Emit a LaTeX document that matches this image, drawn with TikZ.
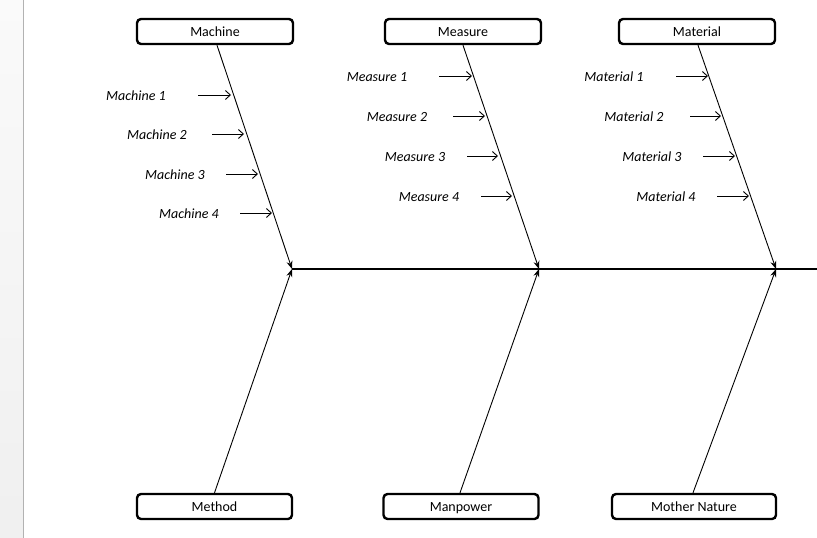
\documentclass[tikz,border=0pt]{standalone}
\usepackage{fontspec}
\setmainfont{Carlito}
\usetikzlibrary{arrows.meta}
\begin{document}
\begin{tikzpicture}[x=1pt,y=-1pt,
  catbox/.style={draw=black, line width=2.4pt, rounded corners=4pt, minimum height=25pt, inner sep=0pt, text height=10.5pt, text depth=1.5pt, font=\fontsize{14}{16}\selectfont, text=black},
  cause/.style={font=\itshape\fontsize{14}{16}\selectfont, text=black, text height=10.5pt, text depth=1.5pt},
  bone/.style={line width=0.9pt, -{Stealth[length=8pt,width=6pt]}},
  sub/.style={line width=0.9pt, -{Straight Barb[length=5pt,width=9pt]}},
  spine/.style={line width=2pt}]
\useasboundingbox (0,0) rectangle (817,538);
% left gray strip
\shade[top color=black!2, bottom color=black!6, draw=none] (0,0) rectangle (23,538);
\draw[black!30, line width=1pt] (23.5,0) -- (23.5,538);

% category boxes
\node[catbox, minimum width=156pt] (mach) at (215,31.5) {Machine};
\node[catbox, minimum width=156pt] (meas) at (463,31.5) {Measure};
\node[catbox, minimum width=156pt] (mate) at (697,31.5) {Material};
\node[catbox, minimum width=155pt] (meth) at (214.5,506.5) {Method};
\node[catbox, minimum width=155pt] (manp) at (461,506.5) {Manpower};
\node[catbox, minimum width=164pt] (moth) at (694,506.5) {Mother Nature};

% junctions on spine
\coordinate (j1) at (292,269);
\coordinate (j2) at (539,269);
\coordinate (j3) at (776,269);
\coordinate (jend) at (817,269);

\draw[spine] (j1) -- (jend);

\draw[bone] ([xshift=2pt]mach.south) -- (j1);
\draw[bone] ([xshift=0pt]meth.north) -- (j1);
\draw[bone] ([xshift=0pt]meas.south) -- (j2);
\draw[bone] ([xshift=-1pt]manp.north) -- (j2);
\draw[bone] ([xshift=1pt]mate.south) -- (j3);
\draw[bone] ([xshift=-1pt]moth.north) -- (j3);

% Machine causes
\node[cause] (c11) at (136,96) {Machine 1};
\node[cause] (c12) at (157,135) {Machine 2};
\node[cause] (c13) at (175,175) {Machine 3};
\node[cause] (c14) at (189,214) {Machine 4};
\coordinate (a11) at (198,95);  \coordinate (b11) at (231,95);
\coordinate (a12) at (212,134); \coordinate (b12) at (244,134);
\coordinate (a13) at (226,174); \coordinate (b13) at (258,174);
\coordinate (a14) at (240,213); \coordinate (b14) at (272,213);
\foreach \i in {11,12,13,14} \draw[sub] (a\i) -- (b\i);

% Measure causes
\node[cause] (c21) at (377,77) {Measure 1};
\node[cause] (c22) at (397,117) {Measure 2};
\node[cause] (c23) at (415,157) {Measure 3};
\node[cause] (c24) at (429,197) {Measure 4};
\coordinate (a21) at (439,76);  \coordinate (b21) at (472,76);
\coordinate (a22) at (453,116); \coordinate (b22) at (485,116);
\coordinate (a23) at (467,156); \coordinate (b23) at (498,156);
\coordinate (a24) at (481,196); \coordinate (b24) at (512,196);
\foreach \i in {21,22,23,24} \draw[sub] (a\i) -- (b\i);

% Material causes
\node[cause] (c31) at (614,77) {Material 1};
\node[cause] (c32) at (634,117) {Material 2};
\node[cause] (c33) at (652,157) {Material 3};
\node[cause] (c34) at (666,197) {Material 4};
\coordinate (a31) at (676,76);  \coordinate (b31) at (708,76);
\coordinate (a32) at (690,116); \coordinate (b32) at (721,116);
\coordinate (a33) at (703,156); \coordinate (b33) at (735,156);
\coordinate (a34) at (717,196); \coordinate (b34) at (749,196);
\foreach \i in {31,32,33,34} \draw[sub] (a\i) -- (b\i);
\end{tikzpicture}
\end{document}
